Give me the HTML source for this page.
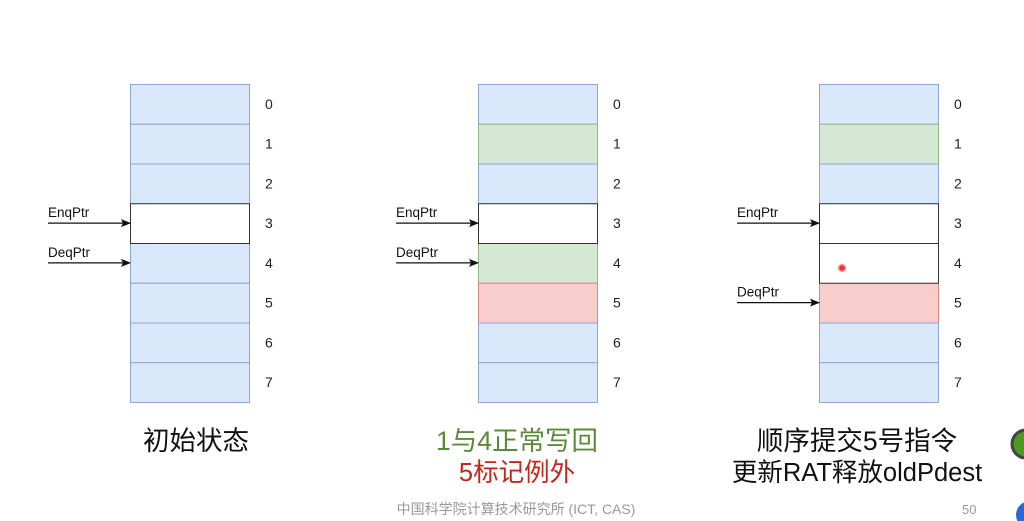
<!DOCTYPE html>
<html><head><meta charset="utf-8"><style>
html,body{margin:0;padding:0;background:#fff;width:1024px;height:521px;overflow:hidden}
svg{display:block}
text{font-family:"Liberation Sans","Noto Sans CJK SC",sans-serif}
</style></head><body>
<svg id="s" width="1024" height="521" viewBox="0 0 1024 521"></svg>
<script>
// Data
const rowLabels = ["0","1","2","3","4","5","6","7"];
const state1 = ["b","b","b","w","b","b","b","b"];
const state2 = ["b","g","b","w","g","r","b","b"];
const state3 = ["b","g","b","w","w","r","b","b"];
const states = [state1, state2, state3];
const enqRows = [3,3,3];
const deqRows = [4,4,5];
const captions = [[["初始状态","#111"]],[["1与4正常写回","#5b8a3a"],["5标记例外","#c0281e"]],[["顺序提交5号指令","#111"],["更新RAT释放oldPdest","#111"]]];

const colX = [130,478,819], capX = [196,517,857], top0 = 84, rowH = 39.75, boxW = 119;
const fills = {b:["#dae8fc","#8ea6d4"],g:["#d5e8d4","#93b87f"],r:["#f8cecc","#d48a85"],w:["#ffffff","#333333"]};
const svg = document.getElementById('s');
const NS = "http://www.w3.org/2000/svg";
function mk(t, a, p){const e=document.createElementNS(NS,t);for(const k in a)e.setAttribute(k,a[k]);(p||svg).appendChild(e);return e;}
const defs = mk('defs',{});
const m = mk('marker',{id:'ah',markerWidth:'10',markerHeight:'8',refX:'9',refY:'4',orient:'auto',markerUnits:'userSpaceOnUse'},defs);
mk('path',{d:'M0,0 L10,4 L0,8 L2,4 Z',fill:'#111'},m);
const y = i => top0 + i*rowH;

states.forEach((st, c) => {
  const x = colX[c];
  const order = st.map((s,i)=>i).sort((a,b)=>(st[a]==='w')-(st[b]==='w'));
  order.forEach(i => {
    const f = fills[st[i]];
    const r = mk('rect',{x:x+0.5,y:y(i)+0.5,width:boxW,height:rowH,fill:f[0],stroke:f[1],'stroke-width':1});
    
    
  });
  rowLabels.forEach((lb,i)=>{
    const t = mk('text',{x:x+135,y:y(i)+rowH/2+5,'font-size':14,fill:'#222'});
    t.textContent = lb;
    
    
  });
  [["EnqPtr",enqRows[c]],["DeqPtr",deqRows[c]]].forEach(([nm,r])=>{
    const ay = y(r)+rowH/2;
    const l = mk('line',{x1:x-82,y1:ay,x2:x,y2:ay,stroke:'#111','stroke-width':1.2,'marker-end':'url(#ah)'});
    
    
    const t = mk('text',{x:x-82,y:ay-6,'font-size':13.5,fill:'#111'});
    t.textContent = nm;
    
    
  });
  captions[c].forEach(([txt,col],k)=>{
    const t = mk('text',{x:capX[c],y:450+k*31,'font-size':k===0?26.5:25.5,fill:col,'text-anchor':'middle'});
    t.textContent = txt;
    
    
  });
});
const dot = mk('circle',{cx:842,cy:268,r:3.5,fill:'#e33',stroke:'#f9a','stroke-width':1.5});


const ft = mk('text',{x:516,y:514,'font-size':14,fill:'#999','text-anchor':'middle'});
ft.textContent = "中国科学院计算技术研究所 (ICT, CAS)";


const pn = mk('text',{x:962,y:514,'font-size':13,fill:'#999'});
pn.textContent = "50";


const g1 = mk('circle',{cx:1026,cy:444,r:14,fill:'#4a9a1e',stroke:'#444','stroke-width':3});


const b1 = mk('circle',{cx:1030,cy:515,r:14,fill:'#2a6ad8'});


</script>
</body></html>
